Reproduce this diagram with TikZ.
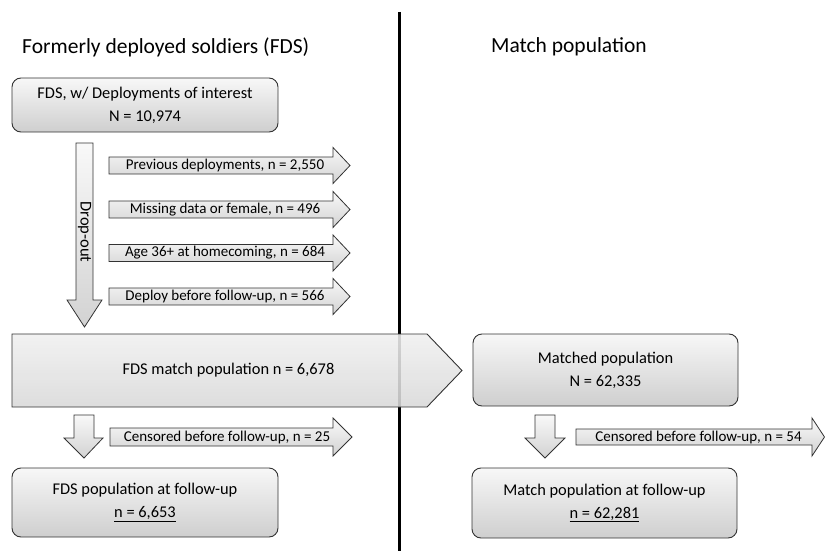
\documentclass[tikz,border=0pt]{standalone}
\usepackage{fontspec}
\setmainfont{Carlito}
\begin{document}
\begin{tikzpicture}[x=1pt,y=-1pt,
  box/.style={draw=black!80,line width=0.9pt,rounded corners=9pt,top color=gray!6,bottom color=gray!38,
    inner sep=0pt,align=center,font=\fontsize{16.4}{23}\selectfont},
  blk/.style={draw=black!80,line width=0.8pt,top color=gray!5,bottom color=gray!35},
  bigblk/.style={draw=black!80,line width=0.9pt,top color=gray!12,bottom color=gray!30,fill opacity=0.88},
  lbl/.style={inner sep=0pt,font=\fontsize{15}{17}\selectfont},
  ttl/.style={inner sep=0pt,anchor=west,font=\fontsize{21.5}{26}\selectfont}]
\useasboundingbox (0,0) rectangle (825,551);
% divider
\draw[line width=3pt] (399,12) coordinate (vtop) -- (399,551) coordinate (vbot);
% titles
\node[ttl] (t1) at (22,47) {Formerly deployed soldiers (FDS)};
\node[ttl] (t2) at (491,47) {Match population};
% boxes
\node[box,minimum width=266pt,minimum height=54pt] (b1) at (145,105)
  {FDS, w/ Deployments of interest\\N = 10,974};
\node[box,minimum width=266pt,minimum height=69pt] (b2) at (145,502.5)
  {FDS population at follow-up\\\underline{n = 6,653}};
\node[box,minimum width=265pt,minimum height=72pt] (b3) at (605.5,370)
  {Matched population\\N = 62,335};
\node[box,minimum width=265pt,minimum height=70pt] (b4) at (604.5,503)
  {Match population at follow-up\\\underline{n = 62,281}};
% drop-out arrow
\draw[blk] (76,143) -- (93,143) -- (93,300) -- (102,300) -- (84.5,327) -- (67,300) -- (76,300) -- cycle;
\node[inner sep=0pt,rotate=-90,font=\fontsize{16.5}{18}\selectfont] (drop) at (84.5,232) {Drop-out};
% right arrows
\newcommand\myrarrow[6]{%
  \draw[blk] (#1,#4-#5) -- (#2,#4-#5) -- (#2,#4-#6) -- (#3,#4) -- (#2,#4+#6) -- (#2,#4+#5) -- (#1,#4+#5) -- cycle;}
\myrarrow{109}{333}{350}{165.5}{8.5}{18}
\node[lbl] (a1) at (225,165.5) {Previous deployments, n = 2,550};
\myrarrow{109}{333}{350}{209.5}{8.5}{18}
\node[lbl] (a2) at (225,209.5) {Missing data or female, n = 496};
\myrarrow{109}{333}{350}{253}{8.5}{18}
\node[lbl] (a3) at (225,253) {Age 36+ at homecoming, n = 684};
\myrarrow{109}{333}{350}{296.5}{8.5}{18}
\node[lbl] (a4) at (225,296.5) {Deploy before follow-up, n = 566};
% big arrow
\draw[bigblk] (12,334) -- (427,334) -- (462,370.5) -- (427,407) -- (12,407) -- cycle;
\node[inner sep=0pt,font=\fontsize{16.4}{18}\selectfont] (big) at (228.5,370.5) {FDS match population n = 6,678};
% small down arrows
\draw[blk] (74,415) -- (94,415) -- (94,438) -- (103,438) -- (84,458) -- (64,438) -- (74,438) -- cycle;
\draw[blk] (535,415) -- (555,415) -- (555,438) -- (565,438) -- (545,458) -- (525,438) -- (535,438) -- cycle;
% censored arrows
\myrarrow{110}{333}{352}{437}{9}{19}
\node[lbl] (c1) at (227,437) {Censored before follow-up, n = 25};
\myrarrow{576}{812}{824.5}{437}{8}{19}
\node[lbl] (c2) at (698.5,437) {Censored before follow-up, n = 54};
\end{tikzpicture}
\end{document}
